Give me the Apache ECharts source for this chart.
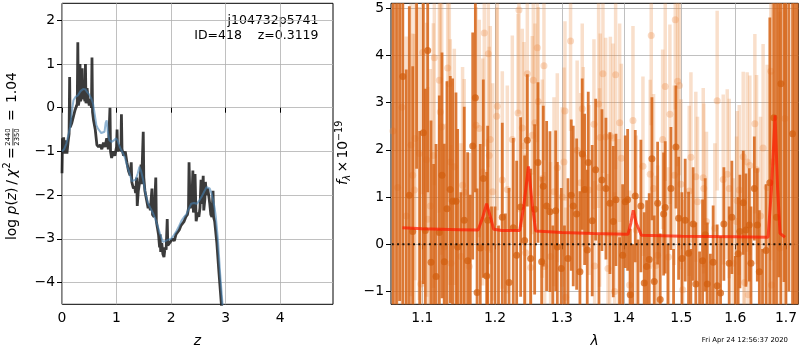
<!DOCTYPE html>
<html>
<head>
<meta charset="utf-8">
<title>p(z) and spectrum</title>
<script src="https://cdn.jsdelivr.net/npm/echarts@6.0.0/dist/echarts.min.js"></script>
<style>
  html, body { margin: 0; padding: 0; background: #fff; }
  #main { width: 800px; height: 350px; }
</style>
</head>
<body>
<div id="main"></div>
<script>
// ---- left panel: log p(z) ----
var pzZ = [0.00,0.01,0.02,0.03,0.05,0.07,0.09,0.11,0.13,0.14,0.15,0.18,0.21,0.24,0.27,0.28,0.29,0.30,0.32,0.33,
  0.34,0.36,0.37,0.38,0.40,0.42,0.43,0.44,0.46,0.48,0.50,0.52,0.54,0.55,0.56,0.58,0.61,0.64,0.67,0.70,
  0.73,0.76,0.79,0.82,0.85,0.88,0.89,0.91,0.94,0.97,1.00,1.01,1.02,1.05,1.08,1.09,1.10,1.13,1.16,1.19,
  1.22,1.25,1.27,1.28,1.31,1.33,1.35,1.37,1.38,1.40,1.43,1.45,1.46,1.49,1.50,1.52,1.55,1.58,1.60,1.62,
  1.65,1.66,1.69,1.72,1.73,1.75,1.77,1.79,1.80,1.81,1.83,1.85,1.87,1.89,1.91,1.93,1.94,1.97,2.00,2.03,
  2.06,2.09,2.12,2.15,2.18,2.21,2.24,2.27,2.30,2.32,2.33,2.35,2.38,2.40,2.41,2.43,2.44,2.46,2.49,2.51,
  2.53,2.55,2.56,2.59,2.60,2.62,2.63,2.65,2.67,2.69,2.71,2.73,2.75,2.77,2.78,2.80,2.84,2.88,2.92,2.95];
var pzLog = [-1.50,-0.70,-0.95,-0.68,-1.05,-0.75,-1.05,-0.80,-0.60,0.70,-0.45,-0.35,-0.20,-0.05,0.05,0.10,1.50,0.05,0.20,1.00,
  0.15,0.25,0.90,0.20,0.30,0.15,1.00,0.10,0.45,0.20,0.05,0.20,0.00,1.15,-0.10,-0.30,-0.50,-0.85,-0.90,-0.85,
  -0.95,-0.80,-0.90,-0.70,-0.95,0.00,-1.00,-1.15,-1.00,-1.10,-0.90,-0.50,-1.00,-0.85,-1.00,-0.15,-0.95,-1.10,-1.00,-1.25,
  -1.45,-1.55,-1.25,-1.70,-1.85,-1.80,-1.95,-1.60,-2.25,-1.90,-1.65,-1.30,-1.75,-0.55,-1.60,-1.90,-2.10,-2.30,-2.20,-2.35,
  -1.85,-2.45,-2.50,-1.60,-2.60,-2.75,-2.90,-3.20,-2.90,-3.30,-3.10,-3.35,-3.42,-3.20,-3.25,-2.55,-3.15,-3.10,-3.05,-3.00,
  -3.05,-2.90,-2.90,-2.80,-2.70,-2.70,-2.60,-2.50,-2.45,-2.30,-1.25,-2.30,-2.20,-1.44,-2.40,-2.10,-1.52,-2.60,-2.40,-2.50,
  -2.30,-1.65,-2.20,-1.56,-2.35,-2.10,-1.70,-2.00,-1.85,-2.00,-2.20,-2.45,-2.50,-1.90,-2.50,-2.60,-3.10,-3.80,-4.45,-4.90];
var pzSmoothZ = [0.00,0.04,0.08,0.12,0.15,0.18,0.21,0.25,0.29,0.34,0.39,0.43,0.46,0.50,0.54,0.57,0.60,0.63,0.66,0.69,
  0.72,0.75,0.78,0.80,0.82,0.84,0.87,0.91,0.95,0.99,1.02,1.06,1.10,1.15,1.20,1.24,1.28,1.31,1.35,1.39,
  1.42,1.45,1.49,1.53,1.58,1.63,1.67,1.72,1.76,1.80,1.85,1.90,1.95,2.00,2.05,2.10,2.15,2.19,2.24,2.28,
  2.33,2.37,2.42,2.47,2.52,2.56,2.60,2.65,2.68,2.71,2.74,2.77,2.80,2.82,2.86,2.90,2.95];
var pzSmoothLog = [-1.00,-0.95,-0.82,-0.60,-0.44,-0.10,0.17,0.25,0.28,0.38,0.43,0.42,0.36,0.30,0.20,0.09,-0.15,-0.40,-0.48,-0.52,
  -0.58,-0.60,-0.55,-0.35,-0.29,-0.55,-0.75,-0.78,-0.75,-0.70,-0.75,-0.90,-1.00,-1.13,-1.35,-1.51,-1.68,-1.72,-1.65,-1.50,
  -1.35,-1.45,-1.66,-1.95,-2.19,-2.32,-2.42,-2.58,-2.73,-2.90,-3.07,-3.05,-3.02,-3.00,-2.92,-2.82,-2.70,-2.59,-2.50,-2.44,
  -2.30,-2.20,-2.18,-2.20,-2.12,-2.04,-1.94,-1.82,-1.80,-1.85,-1.95,-2.10,-2.30,-2.48,-3.02,-3.79,-4.60];
var zTicks = [0, 1, 2, 3, 4];
var pzTicks = [-4, -3, -2, -1, 0, 1, 2];

// ---- right panel: spectrum ----
var darkLam = [1.0625,1.0665,1.0705,1.0746,1.0790,1.0830,1.0874,1.0925,1.0965,1.1013,1.1039,1.1071,1.1115,1.1150,1.1182,1.1226,1.1262,1.1293,1.1329,1.1374,
  1.1406,1.1452,1.1475,1.1520,1.1566,1.1613,1.1650,1.1684,1.1721,1.1745,1.1790,1.1833,1.1881,1.1895,1.1950,1.2000,1.2050,1.2105,1.2150,1.2203,
  1.2265,1.2315,1.2374,1.2433,1.2473,1.2523,1.2583,1.2633,1.2689,1.2714,1.2765,1.2816,1.2860,1.2904,1.2929,1.2991,1.3040,1.3095,1.3147,1.3178,
  1.3232,1.3284,1.3321,1.3359,1.3401,1.3417,1.3481,1.3536,1.3590,1.3639,1.3704,1.3770,1.3825,1.3869,1.3930,1.3981,1.4025,1.4065,1.4109,1.4150,
  1.4194,1.4240,1.4290,1.4347,1.4388,1.4433,1.4480,1.4520,1.4579,1.4624,1.4684,1.4712,1.4760,1.4813,1.4860,1.4902,1.4950,1.5009,1.5068,1.5129,
  1.5170,1.5212,1.5261,1.5330,1.5385,1.5434,1.5471,1.5530,1.5581,1.5656,1.5720,1.5782,1.5883,1.5934,1.6000,1.6055,1.6088,1.6152,1.6204,1.6270,
  1.6303,1.6368,1.6427,1.6467,1.6530,1.6600,1.6675,1.6755,1.6809,1.6855,1.6897,1.6960,1.7000,1.7060,1.7135,1.7176,1.7230];
var darkFlux = [6.2,-2.0,5.8,3.55,-1.8,1.04,0.27,5.6,-1.6,2.36,0.29,4.10,-0.38,-1.5,-0.68,0.25,1.46,-0.37,0.75,1.16,
  0.91,0.91,-0.06,-1.5,0.51,-0.35,-1.45,2.08,3.10,-1.02,-0.08,1.39,-0.67,0.51,-1.5,-1.4,-1.6,0.57,-1.45,-0.81,
  0.35,-0.23,0.79,0.08,2.20,-0.30,0.74,1.73,-0.37,1.23,0.81,0.69,-1.5,0.71,-0.06,-0.51,-1.4,-0.30,1.04,0.81,
  0.64,-0.58,1.91,1.16,-0.12,1.73,0.50,1.58,-1.4,1.36,1.18,0.87,0.48,0.94,-1.35,-0.23,0.90,0.94,-1.07,-1.5,
  1.02,-1.4,0.81,-0.82,-0.47,-0.32,1.81,-0.79,0.87,-1.17,0.64,0.78,-1.4,1.18,-1.5,2.06,0.55,-0.30,0.51,-0.19,
  -1.4,0.43,-0.84,-1.45,-0.35,0.20,-0.84,-1.4,-0.38,-0.88,-1.03,0.43,-0.40,0.57,-1.45,-0.20,0.27,0.88,0.30,0.41,
  -0.40,1.18,0.41,-0.58,-1.4,-0.13,1.30,2.68,0.57,5.8,3.40,6.2,-1.8,6.5,2.34,5.6,-2.0];
var darkErr = [8.0,7.5,7.0,5.0,5.5,4.0,3.5,4.0,4.0,3.2,3.0,3.0,3.0,3.2,2.8,2.9,2.6,2.5,2.7,2.4,
  2.6,2.3,2.5,2.6,2.4,2.3,2.5,2.4,2.0,2.2,2.2,2.1,2.2,2.0,2.3,2.2,2.0,2.0,2.1,2.0,
  1.9,2.0,1.9,1.8,1.4,1.9,1.8,1.7,1.8,1.7,1.8,1.7,1.9,1.7,1.8,1.7,1.8,1.7,1.6,1.7,
  1.6,1.7,1.6,1.6,1.7,1.5,1.6,1.5,1.6,1.5,1.5,1.5,1.6,1.4,1.5,1.5,1.4,1.5,1.4,1.5,
  1.4,1.5,1.4,1.5,1.4,1.4,1.3,1.4,1.3,1.4,1.3,1.4,1.4,1.3,1.4,1.3,1.3,1.4,1.3,1.3,
  1.3,1.2,1.3,1.3,1.3,1.2,1.3,1.2,1.2,1.3,1.2,1.2,1.2,1.2,1.2,1.2,1.2,1.1,1.2,1.2,
  1.2,1.1,1.2,1.3,1.3,1.4,3.5,5.0,6.0,6.5,6.0,7.0,7.0,7.5,7.0,7.5,8.0];

var lightLam = [1.0620,1.0680,1.0735,1.0790,1.0852,1.0874,1.0895,1.0904,1.0960,1.0982,1.1004,1.1057,1.1071,1.1106,1.1146,1.1159,1.1226,1.1239,1.1258,1.1293,
  1.1339,1.1361,1.1374,1.1384,1.1429,1.1520,1.1543,1.1566,1.1636,1.1731,1.1776,1.1824,1.1847,1.1895,1.1904,1.1918,1.1932,1.1966,1.2024,1.2033,
  1.2105,1.2178,1.2251,1.2335,1.2349,1.2398,1.2423,1.2448,1.2473,1.2523,1.2548,1.2563,1.2588,1.2623,1.2638,1.2699,1.2724,1.2735,1.2826,1.2878,
  1.2929,1.3006,1.3033,1.3048,1.3059,1.3136,1.3240,1.3295,1.3321,1.3337,1.3429,1.3509,1.3520,1.3585,1.3601,1.3611,1.3655,1.3700,1.3738,1.3765,
  1.3777,1.3821,1.3848,1.3864,1.3920,1.3931,1.3959,1.4098,1.4155,1.4211,1.4325,1.4450,1.4468,1.4508,1.4550,1.4579,1.4667,1.4712,1.4770,1.4795,
  1.4873,1.4890,1.4932,1.4963,1.4991,1.5024,1.5141,1.5172,1.5261,1.5292,1.5397,1.5408,1.5457,1.5613,1.5656,1.5770,1.5846,1.5883,1.5959,1.6024,
  1.6035,1.6075,1.6152,1.6165,1.6179,1.6229,1.6249,1.6281,1.6379,1.6412,1.6490,1.6541,1.6622,1.6695,1.6708,1.6728,1.6876,1.6978];
var lightFlux = [2.4,1.2,2.9,0.6,2.10,1.46,1.15,2.24,1.92,-0.84,4.06,1.79,0.53,0.81,1.88,3.95,3.47,2.80,2.48,-0.05,
  3.73,3.40,1.74,-0.40,1.64,-0.26,1.25,1.10,-0.47,2.52,2.45,1.53,4.47,-0.08,4.03,1.88,2.22,1.11,2.71,2.92,
  1.36,1.16,2.22,2.78,4.96,2.46,2.08,-0.18,3.61,-0.49,2.31,3.47,2.57,4.16,3.02,1.39,3.78,-0.47,-0.26,1.11,
  1.62,1.00,1.74,2.82,-1.12,4.30,1.99,1.30,2.87,1.85,1.15,2.54,-0.46,2.97,1.20,2.26,3.61,2.27,-0.51,0.23,
  2.29,2.25,-1.00,3.59,0.23,2.57,1.82,-0.86,2.62,0.30,1.65,1.48,4.42,1.18,-0.45,-0.23,2.22,3.34,-0.27,2.75,
  1.46,4.75,3.45,3.36,1.27,-0.96,1.13,1.84,1.43,0.90,1.41,1.18,0.48,0.34,3.04,1.37,1.48,1.18,-0.40,0.48,
  0.92,1.15,1.85,0.09,-0.81,1.74,-1.07,1.67,2.55,1.58,0.60,2.04,1.20,3.66,-0.86,1.74,-0.08,2.66];
var lightErr = [5.0,4.5,4.2,3.8,3.2,3.0,3.3,3.0,3.1,2.8,3.0,2.9,2.8,2.9,2.8,2.7,2.8,2.6,2.7,2.6,
  2.6,2.5,2.6,2.5,2.5,2.4,2.5,2.4,2.4,2.5,2.3,2.4,2.4,2.3,2.4,2.3,2.4,2.3,2.3,2.2,
  2.3,2.2,2.2,2.1,2.2,2.1,2.2,2.1,2.1,2.0,2.1,2.0,2.1,2.0,2.0,2.1,2.0,2.0,2.0,2.0,
  2.0,1.9,2.0,1.9,1.9,1.9,1.9,1.9,1.8,1.9,1.8,1.8,1.8,2.2,2.1,2.2,2.1,2.1,2.0,2.1,
  2.1,2.0,2.1,2.0,2.0,2.1,2.0,2.0,2.0,2.0,1.9,2.0,1.9,2.0,1.9,1.9,1.9,2.0,1.9,1.9,
  1.9,1.9,1.8,1.9,1.8,1.9,1.8,1.8,1.8,1.8,1.9,1.8,1.9,1.8,1.9,1.8,1.8,1.9,1.8,1.8,
  1.9,1.8,1.8,1.9,1.8,1.9,1.8,1.9,1.9,2.0,2.1,2.2,2.6,4.0,4.5,5.0,5.0,5.5];

var modelLam = [1.074,1.100,1.150,1.176,1.182,1.188,1.194,1.198,1.210,1.236,1.242,1.249,1.255,1.260,1.300,1.350,1.407,1.412,1.416,1.421,
  1.430,1.500,1.600,1.664,1.671,1.678,1.683,1.688,1.698];
var modelFlux = [0.35,0.33,0.31,0.30,0.55,0.86,0.55,0.32,0.29,0.29,0.80,1.65,0.80,0.28,0.25,0.23,0.21,0.45,0.72,0.45,
  0.19,0.17,0.16,0.15,1.20,2.73,1.20,0.23,0.15];
var zeroLam = [1.0605, 1.718];
var lamTicks = [1.1, 1.2, 1.3, 1.4, 1.5, 1.6, 1.7];
var lamRange = [1.0595, 1.7254];
var fluxTicks = [-1, 0, 1, 2, 3, 4, 5];

var FONT = 'DejaVu Sans';
var lnTicks = lamTicks.map(function (l) { return Math.log(l); });

function minusFmt(v) {
  return v < 0 ? '\u2212' + Math.abs(v) : String(v);
}

function errRender(color, width) {
  return function (params, api) {
    var x = api.value(0), y = api.value(1), e = api.value(2);
    var p1 = api.coord([x, y + e]);
    var p2 = api.coord([x, y - e]);
    return {
      type: 'line',
      shape: { x1: p1[0], y1: p1[1], x2: p2[0], y2: p2[1] },
      style: { stroke: color, lineWidth: width }
    };
  };
}

function axisCommon(ticks, fmt) {
  return {
    axisLine: { show: false },
    axisTick: { show: true, customValues: ticks, length: 5, inside: false, lineStyle: { color: '#000', width: 1 } },
    axisLabel: { customValues: ticks, color: '#000', fontSize: 13.9, fontFamily: FONT, margin: 7, formatter: fmt },
    splitLine: { show: true, lineStyle: { color: '#b0b0b0', width: 0.8 } }
  };
}

// small helper for the rotated label pieces
function piece(text, x, y, size, italic, align) {
  return { type: 'text', x: x, y: y, style: {
    text: text, fontSize: size, fontFamily: FONT, fontStyle: italic ? 'italic' : 'normal', fill: '#000',
    align: align || 'left', textAlign: align || 'left', verticalAlign: 'middle', textVerticalAlign: 'middle' } };
}

var chart = echarts.init(document.getElementById('main'));

var option = {
  animation: false,
  textStyle: { fontFamily: FONT },
  grid: [
    { left: 62, top: 3.3, width: 271, height: 301, show: true, borderColor: '#000', borderWidth: 1, backgroundColor: 'rgba(0,0,0,0)' },
    { left: 391, top: 3.3, width: 407.5, height: 301, show: true, borderColor: '#000', borderWidth: 1, backgroundColor: 'rgba(0,0,0,0)' }
  ],
  xAxis: [
    Object.assign({ gridIndex: 0, type: 'value', min: 0, max: 4.97 }, axisCommon(zTicks, minusFmt)),
    Object.assign({ gridIndex: 1, type: 'value', min: Math.log(lamRange[0]), max: Math.log(lamRange[1]) },
      axisCommon(lnTicks, function (v) { return Math.exp(v).toFixed(1); }))
  ],
  yAxis: [
    Object.assign({ gridIndex: 0, type: 'value', min: -4.5, max: 2.39 }, axisCommon(pzTicks, minusFmt)),
    Object.assign({ gridIndex: 1, type: 'value', min: -1.27, max: 5.1 }, axisCommon(fluxTicks, minusFmt))
  ],
  series: [
    {
      type: 'line', xAxisIndex: 0, yAxisIndex: 0, symbol: 'none', silent: true, z: 2,
      data: pzZ.map(function (z, i) { return [z, pzLog[i]]; }),
      lineStyle: { color: 'rgba(25,25,25,0.85)', width: 2.8 }
    },
    {
      type: 'line', xAxisIndex: 0, yAxisIndex: 0, symbol: 'none', silent: true, z: 3,
      data: pzSmoothZ.map(function (z, i) { return [z, pzSmoothLog[i]]; }),
      lineStyle: { color: 'rgba(70,130,180,0.6)', width: 2 }
    },
    {
      type: 'custom', xAxisIndex: 1, yAxisIndex: 1, clip: true, silent: true, z: 1,
      renderItem: errRender('rgba(235,140,70,0.28)', 3.5),
      encode: { x: 0, y: 1 },
      data: lightLam.map(function (l, i) { return [Math.log(l), lightFlux[i], lightErr[i]]; })
    },
    {
      type: 'scatter', xAxisIndex: 1, yAxisIndex: 1, silent: true, z: 2, symbolSize: 7,
      itemStyle: { color: 'rgba(235,140,70,0.4)' },
      data: lightLam.map(function (l, i) { return [Math.log(l), lightFlux[i]]; })
    },
    {
      type: 'custom', xAxisIndex: 1, yAxisIndex: 1, clip: true, silent: true, z: 3,
      renderItem: errRender('rgba(214,100,22,0.85)', 2.8),
      encode: { x: 0, y: 1 },
      data: darkLam.map(function (l, i) { return [Math.log(l), darkFlux[i], darkErr[i]]; })
    },
    {
      type: 'scatter', xAxisIndex: 1, yAxisIndex: 1, silent: true, z: 4, symbolSize: 7,
      itemStyle: { color: 'rgba(210,95,15,0.92)' },
      data: darkLam.map(function (l, i) { return [Math.log(l), darkFlux[i]]; })
    },
    {
      type: 'line', xAxisIndex: 1, yAxisIndex: 1, symbol: 'none', silent: true, z: 5,
      data: modelLam.map(function (l, i) { return [Math.log(l), modelFlux[i]]; }),
      lineStyle: { color: 'rgba(255,25,0,0.7)', width: 3 }
    },
    {
      type: 'line', xAxisIndex: 1, yAxisIndex: 1, symbol: 'none', silent: true, z: 6,
      data: zeroLam.map(function (l) { return [Math.log(l), 0]; }),
      lineStyle: { color: 'rgba(0,0,0,0.85)', width: 2, type: [2, 3.3] }
    }
  ],
  graphic: [
    // left y label: log p(z) / chi^2 = 2440/2350 = 1.04
    {
      type: 'group', x: 12.5, y: 240, rotation: Math.PI / 2,
      children: [
        { type: 'text', x: 0, y: 0, style: {
          text: '{n|log }{i|p}{n|(}{i|z}{n|)\u2009/\u2009}{i|\u03c7}',
          rich: {
            n: { fontSize: 13.9, fontFamily: FONT, fill: '#000' },
            i: { fontSize: 13.9, fontFamily: FONT, fontStyle: 'italic', fill: '#000' }
          },
          align: 'left', textAlign: 'left', verticalAlign: 'middle', textVerticalAlign: 'middle' } },
        piece('2', 71.5, -5, 9.7),
        piece('=', 81, 0, 13.9),
        piece('2440', 103, -4.6, 6.8, false, 'center'),
        { type: 'line', shape: { x1: 94.5, y1: 0.4, x2: 111.5, y2: 0.4 }, style: { stroke: '#000', lineWidth: 0.8 } },
        piece('2350', 103, 5, 6.8, false, 'center'),
        piece('=', 119, 0, 13.9),
        piece('1.04', 137, 0, 13.9)
      ]
    },
    // right y label: f_lambda x 10^-19
    {
      type: 'group', x: 343.5, y: 185, rotation: Math.PI / 2,
      children: [
        piece('f', 0, 0, 13.9, true),
        piece('\u03bb', 4.5, 3.5, 9.7, true),
        piece('\u00d7', 12.5, 0, 13.9),
        piece('10', 26.5, 0, 13.9),
        piece('\u221219', 44, -4.5, 9.7)
      ]
    },
    piece('z', 197.5, 341, 13.9, true, 'center'),
    piece('\u03bb', 594.5, 341, 13.9, true, 'center'),
    piece('j104732p5741', 318.5, 21, 12.5, false, 'right'),
    piece('ID=418    z=0.3119', 318.5, 35.5, 12.5, false, 'right'),
    piece('Fri Apr 24 12:56:37 2020', 788, 340, 6.9, false, 'right')
  ]
};

chart.setOption(option);
</script>
</body>
</html>
